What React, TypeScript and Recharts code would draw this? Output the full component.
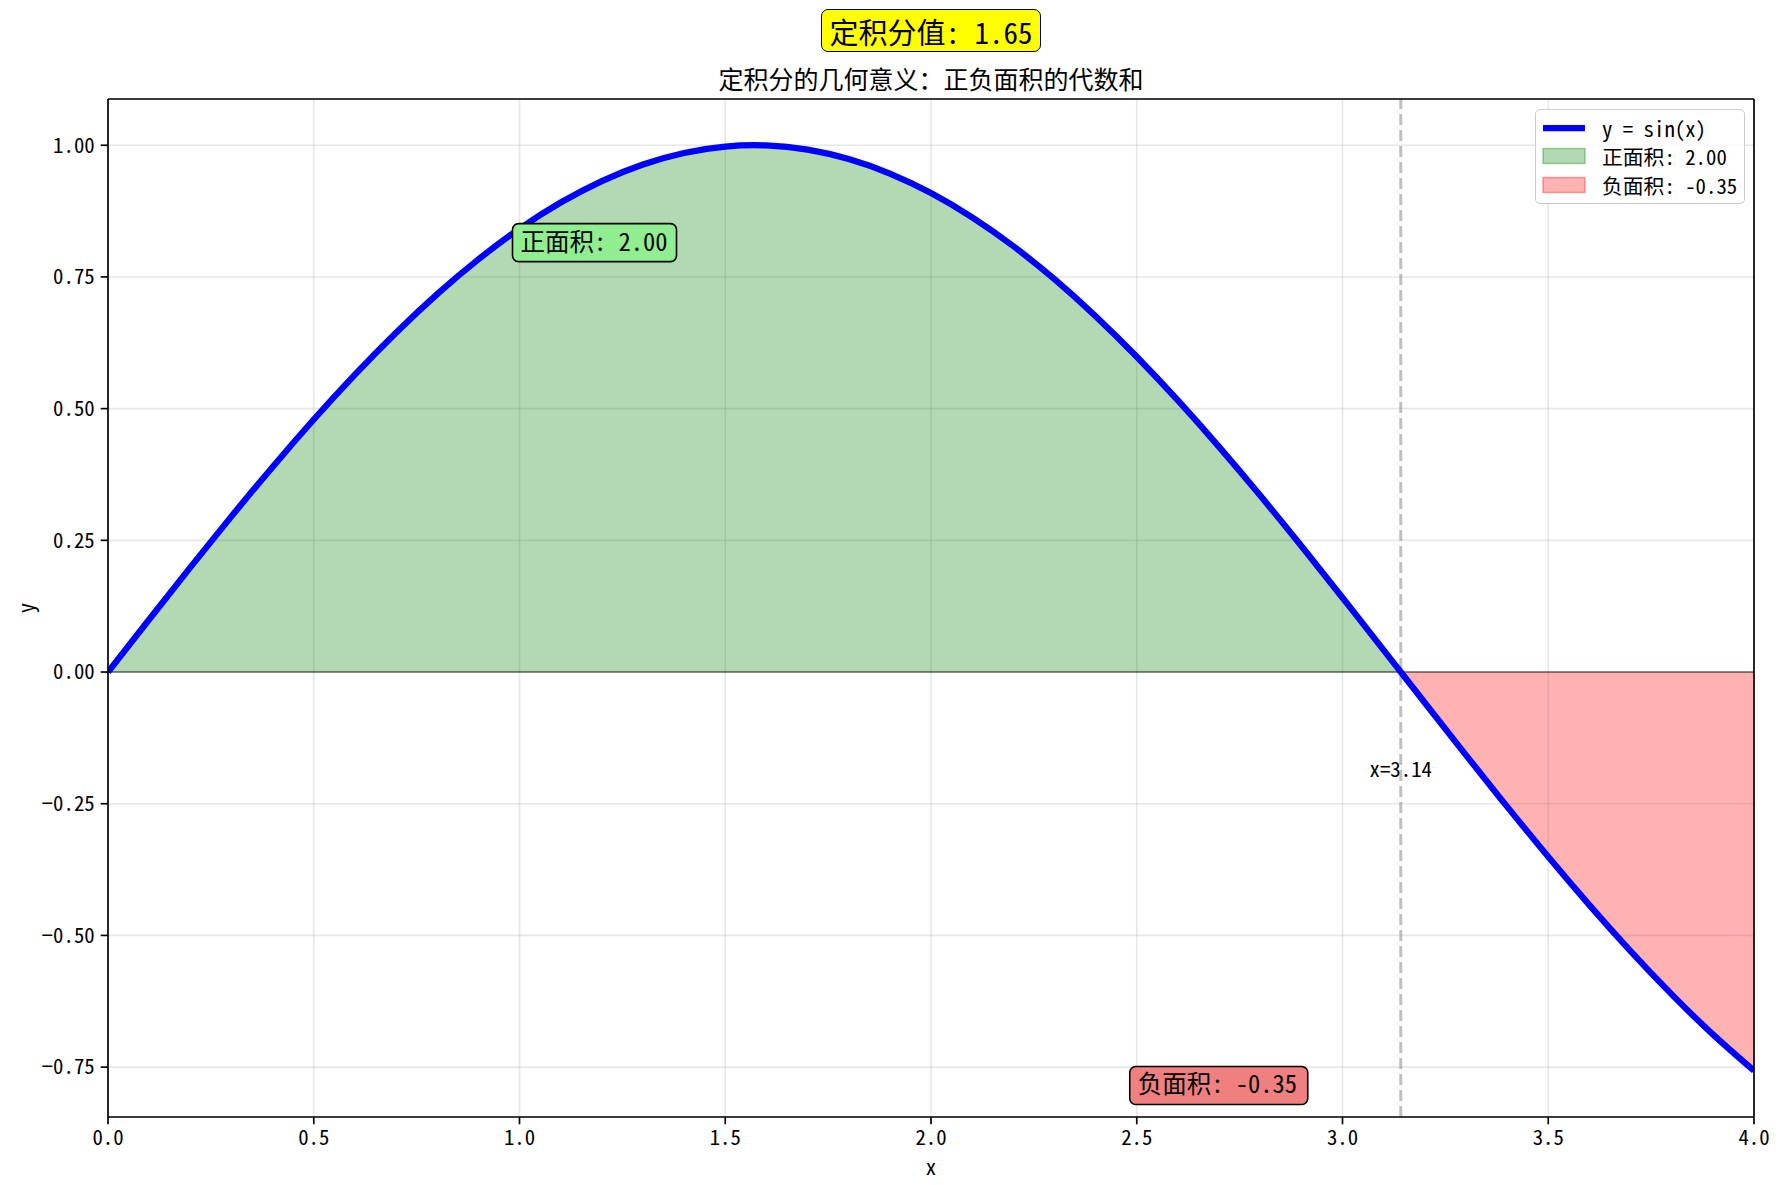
import React from "react";
import {
  ComposedChart,
  Area,
  Line,
  XAxis,
  YAxis,
  CartesianGrid,
  ReferenceLine,
  ReferenceDot,
} from "recharts";

// ---- data ----
const xValues = [
  0.0, 0.1, 0.2, 0.3, 0.4, 0.5, 0.6, 0.7, 0.8, 0.9, 1.0, 1.1, 1.2, 1.3, 1.4,
  1.5, 1.6, 1.7, 1.8, 1.9, 2.0, 2.1, 2.2, 2.3, 2.4, 2.5, 2.6, 2.7, 2.8, 2.9,
  3.0, 3.1, 3.1416, 3.2, 3.3, 3.4, 3.5, 3.6, 3.7, 3.8, 3.9, 4.0,
];
const yValues = [
  0.0, 0.0998, 0.1987, 0.2955, 0.3894, 0.4794, 0.5646, 0.6442, 0.7174, 0.7833,
  0.8415, 0.8912, 0.932, 0.9636, 0.9854, 0.9975, 0.9996, 0.9917, 0.9738,
  0.9463, 0.9093, 0.8632, 0.8085, 0.7457, 0.6755, 0.5985, 0.5155, 0.4274,
  0.335, 0.2392, 0.1411, 0.0416, 0.0, -0.0584, -0.1577, -0.2555, -0.3508,
  -0.4425, -0.5298, -0.6119, -0.6878, -0.7568,
];
const zeroCrossing = 3.1416;
const xTicks = [0, 0.5, 1, 1.5, 2, 2.5, 3, 3.5, 4];
const yTicks = [-0.75, -0.5, -0.25, 0, 0.25, 0.5, 0.75, 1.0];
const xDomain = [0, 4];
const yDomain = [-0.8447, 1.0878];

const suptitleText = "定积分值: 1.65";
const titleText = "定积分的几何意义：正负面积的代数和";
const legendLabels = ["y = sin(x)", "正面积: 2.00", "负面积: -0.35"];
const positiveLabel = { x: 1.0, y: 0.8, text: "正面积: 2.00" };
const negativeLabel = { x: 2.5, y: -0.8, text: "负面积: -0.35" };
const crossingLabel = { x: 3.1416, y: -0.2, text: "x=3.14" };

const rows = xValues.map((x, i) => ({
  x,
  y: yValues[i],
  pos: x <= zeroCrossing ? yValues[i] : null,
  neg: x >= zeroCrossing ? yValues[i] : null,
}));

const FONT = "'Noto Sans Mono CJK SC', 'Noto Sans CJK SC', sans-serif";
const W = 1788;
const H = 1185;

const fmtY = (v: number) => v.toFixed(2).replace("-", "\u2212");
const fmtX = (v: number) => v.toFixed(1);

const makeBoxLabel =
  (text: string, fill: string, width: number) => (props: any) => {
    const { cx, cy } = props;
    return (
      <g>
        <rect
          x={cx - 7}
          y={cy - 27}
          width={width}
          height={38}
          rx={6}
          ry={6}
          fill={fill}
          stroke="#000"
          strokeWidth={1.6}
        />
        <text
          x={cx + 1}
          y={cy}
          fontSize={24.5}
          fontFamily={FONT}
          fill="#000"
        >
          {text}
        </text>
      </g>
    );
  };

const crossingShape = (props: any) => {
  const { cx, cy } = props;
  return (
    <text
      x={cx}
      y={cy}
      textAnchor="middle"
      fontSize={20.8}
      fontFamily={FONT}
      fill="#000"
    >
      {crossingLabel.text}
    </text>
  );
};

const Legend = () => {
  const rowY = [19, 47, 76];
  return (
    <div
      style={{
        position: "absolute",
        left: 1535,
        top: 109,
        width: 210,
        height: 95,
        boxSizing: "border-box",
        border: "1.5px solid #cccccc",
        borderRadius: 5,
        background: "rgba(255,255,255,0.8)",
        fontFamily: FONT,
        fontSize: 20.8,
      }}
    >
      <svg
        width={210}
        height={95}
        style={{ position: "absolute", left: -1.5, top: -1.5 }}
      >
        <line
          x1={8}
          x2={50}
          y1={rowY[0]}
          y2={rowY[0]}
          stroke="#0000ff"
          strokeWidth={6.25}
        />
        <rect
          x={8}
          y={rowY[1] - 7.5}
          width={42}
          height={15}
          fill="green"
          fillOpacity={0.3}
          stroke="green"
          strokeOpacity={0.35}
          strokeWidth={1.5}
        />
        <rect
          x={8}
          y={rowY[2] - 7.5}
          width={42}
          height={15}
          fill="red"
          fillOpacity={0.3}
          stroke="red"
          strokeOpacity={0.35}
          strokeWidth={1.5}
        />
        {legendLabels.map((l, i) => (
          <text
            key={l}
            x={67}
            y={rowY[i]}
            dominantBaseline="central"
            fontSize={20.8}
            fontFamily={FONT}
            fill="#000"
          >
            {l}
          </text>
        ))}
      </svg>
    </div>
  );
};

export default function App() {
  return (
    <div
      style={{
        position: "absolute",
        left: 0,
        top: 0,
        width: W,
        height: H,
        background: "#fff",
        fontFamily: FONT,
      }}
    >
      <ComposedChart
        width={W}
        height={H}
        data={rows}
        margin={{ top: 99, right: 34, bottom: 18, left: 8 }}
      >
        <CartesianGrid stroke="#b0b0b0" strokeOpacity={0.3} strokeWidth={1.6} />
        <XAxis
          dataKey="x"
          type="number"
          domain={xDomain}
          ticks={xTicks}
          tickFormatter={fmtX}
          allowDataOverflow
          height={50}
          tickSize={7.3}
          tickMargin={6}
          stroke="#000"
          strokeWidth={1.67}
          tick={{ fill: "#000", fontSize: 20.8, fontFamily: FONT }}
        />
        <YAxis
          type="number"
          domain={yDomain}
          ticks={yTicks}
          tickFormatter={fmtY}
          allowDataOverflow
          width={100}
          tickSize={7.3}
          tickMargin={6}
          stroke="#000"
          strokeWidth={1.67}
          tick={{ fill: "#000", fontSize: 20.8, fontFamily: FONT }}
        />
        <Area
          dataKey="pos"
          type="natural"
          baseValue={0}
          fill="green"
          fillOpacity={0.3}
          stroke="none"
          isAnimationActive={false}
          connectNulls={false}
        />
        <Area
          dataKey="neg"
          type="natural"
          baseValue={0}
          fill="red"
          fillOpacity={0.3}
          stroke="none"
          isAnimationActive={false}
          connectNulls={false}
        />
        <ReferenceLine
          y={0}
          stroke="#000"
          strokeOpacity={0.42}
          strokeWidth={2.1}
        />
        <ReferenceLine
          x={zeroCrossing}
          stroke="#808080"
          strokeOpacity={0.5}
          strokeWidth={3}
          strokeDasharray="11 5"
        />
        <Line
          dataKey="y"
          type="natural"
          stroke="#0000ff"
          strokeWidth={6.25}
          dot={false}
          activeDot={false}
          isAnimationActive={false}
        />
        {/* top and right spines */}
        <ReferenceLine y={yDomain[1]} stroke="#000" strokeWidth={1.67} />
        <ReferenceLine x={xDomain[1]} stroke="#000" strokeWidth={1.67} />
        <ReferenceDot
          x={positiveLabel.x}
          y={positiveLabel.y}
          shape={makeBoxLabel(positiveLabel.text, "#90ee90", 164)}
        />
        <ReferenceDot
          x={negativeLabel.x}
          y={negativeLabel.y}
          shape={makeBoxLabel(negativeLabel.text, "#f08080", 178)}
        />
        <ReferenceDot
          x={crossingLabel.x}
          y={crossingLabel.y}
          shape={crossingShape}
        />
      </ComposedChart>

      {/* suptitle */}
      <div
        style={{
          position: "absolute",
          left: 821,
          top: 9,
          width: 220,
          height: 43,
          boxSizing: "border-box",
          background: "#ffff00",
          border: "1.6px solid #000",
          borderRadius: 7,
          display: "flex",
          alignItems: "center",
          justifyContent: "center",
          fontSize: 29,
          whiteSpace: "nowrap",
        }}
      >
        {suptitleText}
      </div>

      {/* title */}
      <div
        style={{
          position: "absolute",
          left: 431,
          width: 1000,
          top: 62,
          height: 32,
          textAlign: "center",
          fontSize: 25,
          lineHeight: "32px",
          whiteSpace: "nowrap",
        }}
      >
        {titleText}
      </div>

      {/* axis labels */}
      <div
        style={{
          position: "absolute",
          left: 881,
          width: 100,
          top: 1152,
          height: 28,
          textAlign: "center",
          fontSize: 20.8,
          lineHeight: "28px",
        }}
      >
        x
      </div>
      <div
        style={{
          position: "absolute",
          left: 25 - 50,
          width: 100,
          top: 608 - 14,
          height: 28,
          textAlign: "center",
          fontSize: 20.8,
          lineHeight: "28px",
          transform: "rotate(-90deg)",
        }}
      >
        y
      </div>

      <Legend />
    </div>
  );
}
